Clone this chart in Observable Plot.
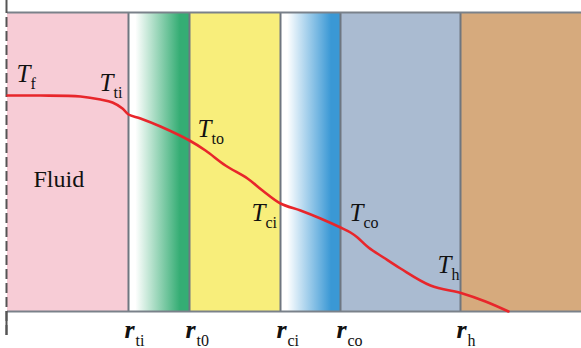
<!DOCTYPE html>
<html><head><meta charset="utf-8">
<script src="https://cdn.jsdelivr.net/npm/d3@7"></script>
<script src="https://cdn.jsdelivr.net/npm/@observablehq/plot@0.6"></script>
<style>body{margin:0;background:#fff}</style>
</head><body><div id="chart"></div>
<script>
// Radial positions of the layer boundaries (arbitrary units along r)
const rStart = 7, rEnd = 581;
const boundaryNames = ["ti", "t0", "ci", "co", "h"];
const boundaryR = [128, 189, 280, 340, 460];
// Layers
const layerNames = ["Fluid", "tube", "tubeOuter", "casingInner", "casing", "formation"];
const layerFrom = [7, 128, 189, 280, 340, 460];
const layerTo = [128, 189, 280, 340, 460, 581];
const layerFill = ["#f7ccd6", "url(#gGreen)", "#f8ee7b", "url(#gBlue)", "#aabbd1", "#d6aa7d"];
const tBottom = 37, tTop = 336;
// Temperature profile (arbitrary units)
const profR = [7, 40, 80, 100, 112, 122, 128, 140, 160, 189, 205, 225, 247, 262, 280, 300, 320, 340, 350, 357, 368, 383, 400, 430, 462, 485, 508];
const profT = [253, 253, 252, 249, 246, 240, 234, 230, 222, 208, 198, 183, 170, 158, 145, 138, 130, 121, 116, 111, 101, 91, 80, 63, 55, 47, 37];
// Temperature labels
const tLabelSub = ["f", "ti", "to", "ci", "co", "h"];
const tLabelR = [16, 99, 197, 251, 349, 437];
const tLabelT = [267, 258, 212, 128, 128, 76];

const layers = layerNames.map((n, i) => ({n, x1: layerFrom[i], x2: layerTo[i], fill: layerFill[i]}));
const prof = profR.map((r, i) => ({r, t: profT[i]}));
const tl = tLabelSub.map((s, i) => ({s, r: tLabelR[i], t: tLabelT[i]}));
const bl = boundaryNames.map((s, i) => ({s, r: boundaryR[i]}));

const serif = "Liberation Serif";
const plot = Plot.plot({
  width: 581, height: 348,
  marginTop: 0, marginBottom: 0, marginLeft: 0, marginRight: 0,
  x: {domain: [0, 581], range: [0, 581], axis: null},
  y: {domain: [0, 348], range: [348, 0], axis: null},
  style: {background: "#fff", overflow: "visible"},
  marks: [
    ...layers.map(d => Plot.rect([d], {x1: "x1", x2: "x2", y1: tBottom, y2: tTop, fill: d.fill})),
    Plot.ruleX(boundaryR, {y1: tBottom, y2: tTop, stroke: "#6f7680", strokeWidth: 2}),
    Plot.ruleY([tBottom, tTop], {x1: rStart, x2: rEnd, stroke: "#7a818a", strokeWidth: 2}),
    Plot.ruleX([rStart - 1], {y1: tTop, y2: 348, stroke: "#555", strokeWidth: 2}),
    Plot.ruleX([rStart - 1], {y1: 13, y2: tTop, stroke: "#555", strokeWidth: 2, strokeDasharray: "10,4"}),
    Plot.ruleX([rStart - 1], {y1: 13, y2: tBottom, stroke: "#555", strokeWidth: 2}),
    Plot.line(prof, {x: "r", y: "t", stroke: "#e8262b", strokeWidth: 2.6, curve: "catmull-rom"}),
    Plot.text(tl, {x: "r", y: "t", text: () => "T", textAnchor: "start", lineAnchor: "bottom", fontSize: 25, fontStyle: "italic", fontFamily: serif, fill: "#111"}),
    Plot.text(tl, {x: "r", y: "t", text: "s", textAnchor: "start", lineAnchor: "bottom", dx: 14, dy: 7, fontSize: 16, fontFamily: serif, fill: "#111"}),
    Plot.text(["Fluid"], {x: 33, y: 162, text: d => d, textAnchor: "start", lineAnchor: "bottom", fontSize: 24, fontFamily: serif, fill: "#111"}),
    Plot.text(bl, {x: "r", y: 11, text: () => "r", textAnchor: "start", lineAnchor: "bottom", dx: -4, fontSize: 26, fontStyle: "italic", fontWeight: "bold", fontFamily: serif, fill: "#111"}),
    Plot.text(bl, {x: "r", y: 11, text: "s", textAnchor: "start", lineAnchor: "bottom", dx: 7, dy: 8, fontSize: 16, fontFamily: serif, fill: "#111"})
  ]
});
const svg = d3.select(plot);
const defs = svg.insert("defs", ":first-child");
function grad(id, c) {
  const g = defs.append("linearGradient").attr("id", id).attr("x1", "0").attr("x2", "1").attr("y1", "0").attr("y2", "0");
  g.append("stop").attr("offset", "0").attr("stop-color", "#ffffff");
  g.append("stop").attr("offset", "0.12").attr("stop-color", "#ffffff");
  g.append("stop").attr("offset", "0.85").attr("stop-color", c);
  g.append("stop").attr("offset", "1").attr("stop-color", c);
}
grad("gGreen", "#35ad74");
grad("gBlue", "#3a98d5");
document.getElementById("chart").appendChild(plot);
</script></body></html>
